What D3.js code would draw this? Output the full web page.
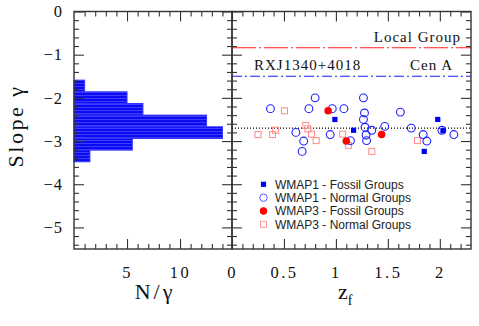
<!DOCTYPE html>
<html>
<head>
<meta charset="utf-8">
<script src="https://cdn.jsdelivr.net/npm/d3@7"></script>
<style>
  body { margin: 0; background: #fff; }
  svg { display: block; }
  .serif { font-family: "Liberation Serif", "DejaVu Serif", serif; fill: #111; }
  .legend text { font-family: "Liberation Sans", Arial, sans-serif; font-size: 12px; fill: #222; }
</style>
</head>
<body>
<div id="chart"></div>
<script>
// histogram of slopes (left panel)
var binEdges = [-1.59, -1.86, -2.13, -2.40, -2.67, -2.94, -3.21, -3.48];
var binValues = [1.0, 5.0, 6.5, 12.5, 14.0, 5.5, 1.5];

// WMAP1 - Fossil Groups
var w1FossilZ = [0.99, 1.17, 1.85, 1.98, 2.03];
var w1FossilG = [-2.50, -2.75, -3.24, -2.50, -2.76];

// WMAP1 - Normal Groups
var w1NormalZ = [0.37, 0.615, 0.69, 0.675, 0.74, 0.80, 0.945, 0.965, 1.077, 1.14, 1.265, 1.275,
                 1.265, 1.28, 1.345, 1.29, 1.295, 1.47, 1.62, 1.725, 1.84, 1.875, 2.02, 2.135];
var w1NormalG = [-2.25, -2.80, -3.00, -3.24, -2.25, -2.00, -2.85, -2.25, -2.25, -2.99, -2.00, -2.35,
                 -2.50, -2.68, -2.75, -2.86, -2.99, -2.66, -2.33, -2.70, -2.85, -3.00, -2.75, -2.85];

// WMAP3 - Fossil Groups
var w3FossilZ = [0.925, 1.10, 1.44];
var w3FossilG = [-2.30, -3.00, -2.85];

// WMAP3 - Normal Groups
var w3NormalZ = [0.25, 0.39, 0.42, 0.505, 0.71, 0.73, 0.765, 0.81, 1.065, 1.12, 1.345, 1.785];
var w3NormalG = [-2.85, -2.85, -2.75, -2.30, -2.64, -2.72, -2.84, -2.99, -2.84, -3.10, -3.24, -2.99];

// reference slopes
var localGroupSlope = -0.84;
var cenASlope = -1.50;
var meanSlope = -2.70;

var legendLabels = ["WMAP1 - Fossil Groups", "WMAP1 - Normal Groups",
                    "WMAP3 - Fossil Groups", "WMAP3 - Normal Groups"];

var width = 479, height = 326;
var yTop = 11.5, yBottom = 249;
var leftX0 = 74, midX = 232, rightX1 = 471;
var frameColor = "#333";

var svg = d3.select("#chart").append("svg")
    .attr("width", width)
    .attr("height", height);

var defs = svg.append("defs");
var pat = defs.append("pattern")
    .attr("id", "hatch")
    .attr("patternUnits", "userSpaceOnUse")
    .attr("width", 6).attr("height", 3);
pat.append("rect").attr("width", 6).attr("height", 3).attr("fill", "#0b0bf2");
pat.append("rect").attr("y", 2).attr("width", 6).attr("height", 1).attr("fill", "#3c3cff");

var y = d3.scaleLinear().domain([-5.5, 0]).range([yBottom, yTop]);
var xN = d3.scaleLinear().domain([0, 14.9]).range([leftX0, midX]);
var xZ = d3.scaleLinear().domain([0, 2.3]).range([midX, rightX1]);

function fmt(d) { return String(d).replace("-", "\u2212"); }

function drawAxis(axis, tx, ty, showLabels) {
    var g = svg.append("g").attr("transform", "translate(" + tx + "," + ty + ")").call(axis);
    g.select(".domain").remove();
    g.selectAll("line").attr("stroke", frameColor).attr("stroke-width", 1.1);
    if (!showLabels) g.selectAll("text").remove();
    else g.selectAll("text").attr("font-size", 16.5).attr("fill", "#111")
        .attr("font-family", "Liberation Serif, DejaVu Serif, serif");
    return g;
}

function frame(x, majors, minors, yLabels, xLabels, xFmt) {
    var r = x.range();
    var yMaj = d3.range(0, -5.01, -1);
    var yMin = d3.range(0, -5.51, -0.2).filter(function (d) { return Math.abs(d - Math.round(d)) > 0.01; });
    // minor + major on all four sides, inward
    drawAxis(d3.axisLeft(y).tickValues(yMin).tickSize(-5).tickFormat(""), r[0], 0, false);
    drawAxis(d3.axisRight(y).tickValues(yMin).tickSize(-5).tickFormat(""), r[1], 0, false);
    var gl = drawAxis(d3.axisLeft(y).tickValues(yMaj).tickSize(-10).tickPadding(11).tickFormat(fmt), r[0], 0, yLabels);
    gl.selectAll("text").attr("letter-spacing", "1px");
    drawAxis(d3.axisRight(y).tickValues(yMaj).tickSize(-10).tickFormat(""), r[1], 0, false);
    drawAxis(d3.axisBottom(x).tickValues(minors).tickSize(-5).tickFormat(""), 0, yBottom, false);
    drawAxis(d3.axisTop(x).tickValues(minors).tickSize(-5).tickFormat(""), 0, yTop, false);
    var gb = drawAxis(d3.axisBottom(x).tickValues(majors).tickSize(-10).tickPadding(17).tickFormat(xFmt), 0, yBottom, xLabels);
    gb.selectAll("text").attr("letter-spacing", "2.5px");
    drawAxis(d3.axisTop(x).tickValues(majors).tickSize(-10).tickFormat(""), 0, yTop, false);
    svg.append("rect")
        .attr("x", r[0]).attr("y", yTop)
        .attr("width", r[1] - r[0]).attr("height", yBottom - yTop)
        .attr("fill", "none").attr("stroke", frameColor).attr("stroke-width", 1.4);
}

// ---- left panel: histogram
svg.append("g").selectAll("rect")
    .data(binValues)
    .enter()
    .append("rect")
    .attr("x", xN(0))
    .attr("y", function (d, i) { return y(binEdges[i]); })
    .attr("width", function (d) { return xN(d) - xN(0); })
    .attr("height", function (d, i) { return y(binEdges[i + 1]) - y(binEdges[i]); })
    .attr("fill", "url(#hatch)")
    .attr("stroke", "#3535ff")
    .attr("stroke-width", 1);

frame(xN, [5, 10], d3.range(1, 15).filter(function (d) { return d % 5 !== 0; }), true,
      true, function (d) { return d; });

// ---- right panel
function hline(v, color, dash, w) {
    svg.append("line")
        .attr("x1", xZ(0)).attr("x2", xZ(2.3))
        .attr("y1", y(v)).attr("y2", y(v))
        .attr("stroke", color).attr("stroke-width", w)
        .attr("stroke-dasharray", dash);
}
hline(localGroupSlope, "#ff2020", "24,3,2,3", 1.1);
hline(cenASlope, "#1a1aff", "10,3,2,3", 1.1);
hline(meanSlope, "#000", "1,2", 1.1);

svg.append("text").attr("class", "serif").attr("font-size", 15).attr("letter-spacing", "1px")
    .attr("x", 461).attr("y", 42).attr("text-anchor", "end").text("Local Group");
svg.append("text").attr("class", "serif").attr("font-size", 15).attr("letter-spacing", "1px")
    .attr("x", 254).attr("y", 70).text("RXJ1340+4018");
svg.append("text").attr("class", "serif").attr("font-size", 15).attr("letter-spacing", "1px")
    .attr("x", 453).attr("y", 70).attr("text-anchor", "end").text("Cen A");

function pts(zs, gs) { return zs.map(function (z, i) { return [z, gs[i]]; }); }

var pts3n = pts(w3NormalZ, w3NormalG);
svg.append("g").selectAll("rect").data(pts3n).enter().append("rect")
    .attr("x", function (d) { return xZ(d[0]) - 3; })
    .attr("y", function (d) { return y(d[1]) - 3; })
    .attr("width", 6).attr("height", 6)
    .attr("fill", "none").attr("stroke", "#ff8a8a").attr("stroke-width", 1);

var pts1n = pts(w1NormalZ, w1NormalG);
svg.append("g").selectAll("circle").data(pts1n).enter().append("circle")
    .attr("cx", function (d) { return xZ(d[0]); })
    .attr("cy", function (d) { return y(d[1]); })
    .attr("r", 3.9)
    .attr("fill", "none").attr("stroke", "#1f1fff").attr("stroke-width", 1.1);

var pts1f = pts(w1FossilZ, w1FossilG);
svg.append("g").selectAll("rect").data(pts1f).enter().append("rect")
    .attr("x", function (d) { return xZ(d[0]) - 2.6; })
    .attr("y", function (d) { return y(d[1]) - 2.6; })
    .attr("width", 5.2).attr("height", 5.2)
    .attr("fill", "#0000f0");

var pts3f = pts(w3FossilZ, w3FossilG);
svg.append("g").selectAll("circle").data(pts3f).enter().append("circle")
    .attr("cx", function (d) { return xZ(d[0]); })
    .attr("cy", function (d) { return y(d[1]); })
    .attr("r", 3.8)
    .attr("fill", "#ff0000");

// legend
var legend = svg.append("g").attr("class", "legend");
var rows = [184.3, 197.7, 211, 224.3];
var mx = 263.5;
legend.append("rect").attr("x", mx - 2.6).attr("y", rows[0] - 2.6).attr("width", 5.2).attr("height", 5.2).attr("fill", "#0000f0");
legend.append("circle").attr("cx", mx).attr("cy", rows[1]).attr("r", 3.7).attr("fill", "none").attr("stroke", "#5a5aff").attr("stroke-width", 1);
legend.append("circle").attr("cx", mx).attr("cy", rows[2]).attr("r", 3.7).attr("fill", "#ff0000");
legend.append("rect").attr("x", mx - 3).attr("y", rows[3] - 3).attr("width", 6).attr("height", 6).attr("fill", "none").attr("stroke", "#ff9a9a").attr("stroke-width", 1);
legend.selectAll("text").data(legendLabels).enter().append("text")
    .attr("x", 275)
    .attr("y", function (d, i) { return rows[i] + 4.3; })
    .text(function (d) { return d; });

frame(xZ, [0, 0.5, 1, 1.5, 2], d3.range(1, 23).filter(function (d) { return d % 5 !== 0; }).map(function (d) { return d / 10; }),
      false, true, function (d) { return d; });

// axis titles
svg.append("text").attr("class", "serif").attr("font-size", 22).attr("letter-spacing", "2.5px")
    .attr("text-anchor", "middle")
    .attr("transform", "translate(23,126) rotate(-90)")
    .text("Slope \u03b3");
svg.append("text").attr("class", "serif").attr("font-size", 22).attr("letter-spacing", "3px")
    .attr("text-anchor", "middle")
    .attr("x", 155).attr("y", 299)
    .text("N/\u03b3");
var zt = svg.append("text").attr("class", "serif").attr("font-size", 22)
    .attr("x", 338).attr("y", 299);
zt.append("tspan").text("z");
zt.append("tspan").attr("font-size", 14).attr("dy", 6).text("f");
</script>
</body>
</html>
